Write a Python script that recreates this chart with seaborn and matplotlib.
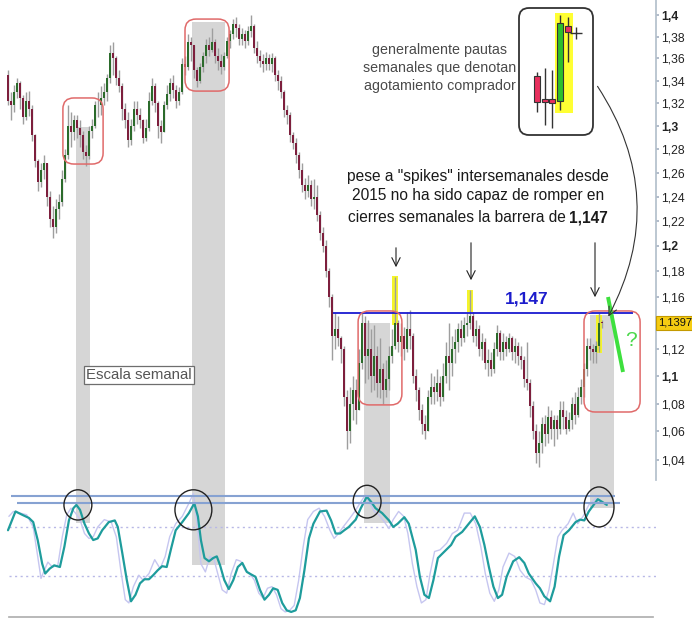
import numpy as np
import pandas as pd
import matplotlib
matplotlib.use("Agg")
import matplotlib.pyplot as plt
import seaborn as sns
from matplotlib.patches import Rectangle, FancyBboxPatch, Ellipse
from matplotlib.transforms import blended_transform_factory

sns.set_theme(style="white")
plt.rcParams['font.family'] = ['Liberation Sans Narrow', 'Liberation Sans', 'DejaVu Sans']

# weekly candles (EUR/USD), open = previous close
first_open = 1.345
closes = [1.322, 1.318, 1.330, 1.338, 1.325, 1.308, 1.322, 1.315, 1.292, 1.270,
          1.252, 1.262, 1.268, 1.240, 1.222, 1.215, 1.230, 1.236, 1.255, 1.275,
          1.300, 1.295, 1.305, 1.298, 1.292, 1.278, 1.274, 1.296, 1.300, 1.318,
          1.318, 1.325, 1.330, 1.342, 1.365, 1.360, 1.342, 1.335, 1.315, 1.305,
          1.288, 1.300, 1.315, 1.310, 1.305, 1.290, 1.298, 1.322, 1.335, 1.320,
          1.300, 1.295, 1.318, 1.328, 1.338, 1.332, 1.322, 1.330, 1.355, 1.352,
          1.375, 1.372, 1.350, 1.340, 1.352, 1.362, 1.372, 1.368, 1.375, 1.362,
          1.358, 1.352, 1.362, 1.376, 1.382, 1.392, 1.388, 1.378, 1.382, 1.376,
          1.385, 1.390, 1.370, 1.362, 1.358, 1.355, 1.360, 1.355, 1.360, 1.345,
          1.340, 1.330, 1.314, 1.310, 1.292, 1.285, 1.275, 1.262, 1.250, 1.245,
          1.250, 1.238, 1.240, 1.225, 1.210, 1.200, 1.180, 1.160, 1.130, 1.135,
          1.128, 1.120, 1.085, 1.060, 1.080, 1.090, 1.075, 1.110, 1.140, 1.115,
          1.120, 1.100, 1.115, 1.095, 1.105, 1.090, 1.098, 1.115, 1.122, 1.140,
          1.125, 1.130, 1.120, 1.135, 1.130, 1.100, 1.090, 1.075, 1.065, 1.060,
          1.085, 1.092, 1.088, 1.095, 1.085, 1.100, 1.115, 1.110, 1.120, 1.125,
          1.135, 1.128, 1.138, 1.140, 1.145, 1.130, 1.135, 1.120, 1.125, 1.110,
          1.112, 1.105, 1.120, 1.132, 1.118, 1.125, 1.120, 1.128, 1.118, 1.122,
          1.115, 1.112, 1.098, 1.095, 1.078, 1.060, 1.045, 1.052, 1.065, 1.058,
          1.070, 1.062, 1.068, 1.062, 1.075, 1.070, 1.062, 1.068, 1.080, 1.072,
          1.085, 1.092, 1.105, 1.122, 1.120, 1.118, 1.122, 1.140, 1.1397]
highs = [1.350, 1.330, 1.336, 1.342, 1.340, 1.327, 1.330, 1.331, 1.318, 1.293,
         1.272, 1.268, 1.275, 1.268, 1.245, 1.232, 1.238, 1.242, 1.262, 1.280,
         1.318, 1.312, 1.310, 1.310, 1.305, 1.296, 1.284, 1.300, 1.306, 1.322,
         1.330, 1.335, 1.338, 1.346, 1.372, 1.375, 1.362, 1.350, 1.338, 1.320,
         1.312, 1.306, 1.322, 1.322, 1.316, 1.306, 1.306, 1.330, 1.342, 1.338,
         1.322, 1.305, 1.322, 1.336, 1.342, 1.345, 1.336, 1.334, 1.360, 1.362,
         1.382, 1.380, 1.372, 1.352, 1.356, 1.366, 1.378, 1.380, 1.388, 1.378,
         1.370, 1.364, 1.366, 1.380, 1.386, 1.396, 1.398, 1.392, 1.388, 1.386,
         1.390, 1.400, 1.392, 1.376, 1.368, 1.364, 1.366, 1.364, 1.365, 1.362,
         1.350, 1.344, 1.332, 1.318, 1.312, 1.295, 1.290, 1.278, 1.268, 1.256,
         1.258, 1.254, 1.255, 1.250, 1.228, 1.215, 1.205, 1.182, 1.162, 1.147,
         1.145, 1.130, 1.122, 1.090, 1.092, 1.100, 1.098, 1.120, 1.147, 1.145,
         1.142, 1.135, 1.138, 1.122, 1.128, 1.110, 1.112, 1.122, 1.135, 1.175,
         1.142, 1.140, 1.137, 1.148, 1.150, 1.132, 1.105, 1.092, 1.080, 1.072,
         1.090, 1.102, 1.100, 1.105, 1.100, 1.110, 1.125, 1.140, 1.130, 1.135,
         1.140, 1.142, 1.144, 1.147, 1.165, 1.148, 1.142, 1.138, 1.132, 1.128,
         1.120, 1.118, 1.125, 1.138, 1.134, 1.132, 1.130, 1.132, 1.130, 1.128,
         1.125, 1.122, 1.115, 1.125, 1.098, 1.082, 1.065, 1.060, 1.070, 1.072,
         1.078, 1.075, 1.072, 1.072, 1.082, 1.082, 1.075, 1.074, 1.085, 1.088,
         1.092, 1.098, 1.110, 1.128, 1.128, 1.124, 1.126, 1.147, 1.142]
lows = [1.318, 1.305, 1.312, 1.325, 1.315, 1.302, 1.305, 1.309, 1.287, 1.265,
        1.245, 1.248, 1.255, 1.232, 1.215, 1.206, 1.210, 1.222, 1.232, 1.252,
        1.272, 1.282, 1.288, 1.290, 1.282, 1.272, 1.266, 1.272, 1.290, 1.298,
        1.308, 1.310, 1.318, 1.322, 1.338, 1.345, 1.336, 1.330, 1.305, 1.298,
        1.282, 1.284, 1.296, 1.302, 1.298, 1.285, 1.287, 1.296, 1.318, 1.312,
        1.290, 1.285, 1.296, 1.315, 1.322, 1.325, 1.316, 1.318, 1.328, 1.345,
        1.350, 1.358, 1.342, 1.334, 1.338, 1.348, 1.356, 1.362, 1.366, 1.356,
        1.350, 1.346, 1.350, 1.360, 1.370, 1.378, 1.380, 1.372, 1.372, 1.370,
        1.372, 1.380, 1.365, 1.356, 1.352, 1.348, 1.350, 1.350, 1.348, 1.340,
        1.332, 1.325, 1.308, 1.302, 1.286, 1.280, 1.268, 1.256, 1.244, 1.238,
        1.240, 1.232, 1.230, 1.220, 1.205, 1.195, 1.175, 1.152, 1.112, 1.120,
        1.122, 1.110, 1.078, 1.048, 1.052, 1.068, 1.065, 1.078, 1.105, 1.095,
        1.098, 1.088, 1.090, 1.085, 1.084, 1.080, 1.085, 1.090, 1.110, 1.120,
        1.118, 1.115, 1.112, 1.118, 1.120, 1.095, 1.082, 1.068, 1.058, 1.055,
        1.062, 1.080, 1.080, 1.082, 1.078, 1.082, 1.095, 1.090, 1.100, 1.110,
        1.118, 1.122, 1.125, 1.130, 1.135, 1.125, 1.122, 1.115, 1.112, 1.105,
        1.100, 1.100, 1.102, 1.115, 1.112, 1.112, 1.115, 1.118, 1.112, 1.110,
        1.108, 1.105, 1.092, 1.090, 1.070, 1.055, 1.038, 1.035, 1.045, 1.050,
        1.052, 1.055, 1.050, 1.055, 1.058, 1.062, 1.058, 1.060, 1.062, 1.065,
        1.070, 1.080, 1.085, 1.100, 1.112, 1.110, 1.110, 1.118, 1.136]

last_price = 1.1397
barrier = 1.147
price_ticks = [1.04, 1.06, 1.08, 1.10, 1.12, 1.16, 1.18, 1.20, 1.22, 1.24,
               1.26, 1.28, 1.30, 1.32, 1.34, 1.36, 1.38, 1.40]

# yellow marks on the spikes: week, low, high
spike_weeks = [129, 154, 197]
spike_lo = [1.138, 1.148, 1.117]
spike_hi = [1.176, 1.165, 1.146]

# oscillator (main and fast line)
osc_w = [0, 2.5, 4.7, 7.0, 8.4, 9.9, 11.4, 12.4, 13.9, 15.4,
         17.3, 18.8, 20.3, 21.8, 22.8, 24.0, 25.5, 27.0, 28.4, 29.9,
         31.4, 33.6, 35.6, 36.6, 38.1, 39.6, 41.0, 42.5, 44.0, 45.5,
         47.0, 48.4, 49.9, 51.4, 52.9, 54.4, 55.9, 58.1, 60.3, 62.1,
         63.3, 64.3, 65.5, 67.0, 68.4, 69.6, 70.7, 72.1, 73.6, 75.1,
         76.6, 78.1, 79.6, 81.0, 82.5, 84.0, 85.5, 87.0, 88.4, 89.9,
         91.4, 92.9, 94.4, 95.9, 97.3, 98.8, 100.3, 101.8, 104.0, 106.2,
         107.7, 109.2, 110.7, 112.1, 113.6, 115.9, 117.6, 119.6, 121.0, 122.5,
         124.7, 127.0, 128.4, 129.9, 132.1, 133.6, 135.9, 137.3, 138.8, 140.3,
         141.8, 143.3, 145.5, 147.7, 149.2, 151.4, 153.6, 155.6, 157.3, 158.8,
         160.3, 161.8, 163.3, 164.7, 166.2, 168.4, 170.4, 172.1, 173.6, 175.9,
         177.3, 178.8, 180.7, 182.2, 183.7, 185.2, 187.0, 189.2, 190.7, 192.1,
         193.6, 196.6, 198.8, 199.6]
osc_v = [76, 99, 95, 91, 86, 64, 35, 23, 29, 33,
         31, 56, 88, 103, 107, 101, 84, 72, 64, 66,
         76, 86, 88, 80, 48, 15, -11, -3, 11, 16,
         16, 21, 27, 32, 31, 54, 76, 86, 97, 109,
         93, 64, 42, 38, 42, 44, 33, 15, 4, 15,
         31, 36, 25, 22, 19, 3, -9, -3, 5, 3,
         -13, -22, -24, -22, -7, 27, 66, 84, 99, 100,
         88, 72, 72, 76, 80, 89, 103, 117, 111, 103,
         97, 88, 80, 84, 92, 84, 52, 19, -3, -7,
         15, 42, 50, 58, 68, 74, 84, 93, 80, 58,
         31, 7, -7, -3, 19, 38, 43, 36, 23, 11,
         5, -5, -11, 7, 44, 70, 76, 86, 89, 88,
         99, 114, 109, 107]
sig_w = [0.3, 1.8, 4.0, 6.2, 8.4, 9.9, 11.0, 12.1, 13.3, 14.8,
         16.6, 18.1, 19.6, 21.0, 22.5, 24.0, 25.5, 27.0, 28.4, 29.9,
         32.1, 34.4, 36.1, 37.6, 39.1, 40.3, 41.8, 43.6, 45.0, 47.0,
         48.9, 50.7, 52.4, 53.9, 55.9, 58.1, 60.3, 61.8, 63.3, 64.3,
         65.8, 67.3, 68.7, 69.9, 71.4, 72.9, 74.4, 76.1, 77.6, 79.1,
         80.6, 82.1, 83.6, 85.0, 86.5, 88.0, 89.5, 91.0, 92.4, 93.9,
         95.4, 96.9, 98.4, 99.9, 101.8, 103.7, 105.5, 107.3, 108.7, 110.2,
         111.7, 113.6, 115.6, 117.3, 119.1, 120.6, 122.1, 123.6, 125.5, 127.0,
         128.4, 130.2, 131.9, 133.3, 134.8, 136.3, 137.8, 139.3, 140.7, 142.2,
         144.0, 146.2, 148.1, 149.9, 152.1, 154.1, 155.9, 157.6, 159.1, 160.6,
         162.1, 163.6, 165.0, 167.0, 168.9, 170.7, 172.4, 174.4, 175.9, 177.3,
         178.8, 180.3, 181.8, 183.3, 184.7, 186.7, 188.4, 189.9, 191.7, 193.6,
         195.9, 198.1]
sig_v = [93, 99, 97, 95, 80, 44, 17, 27, 37, 31,
         33, 68, 95, 103, 97, 89, 72, 66, 68, 80,
         89, 86, 68, 27, -9, -13, 7, 21, 15, 23,
         40, 29, 44, 68, 84, 93, 109, 121, 76, 35,
         25, 44, 40, 23, 3, -1, 23, 40, 38, 27,
         23, 15, -1, -7, 5, 7, -3, -20, -24, -22,
         -16, 15, 56, 89, 99, 103, 93, 76, 66, 72,
         80, 89, 99, 109, 119, 109, 99, 95, 86, 78,
         89, 99, 93, 72, 35, 7, -13, -9, 23, 50,
         52, 60, 72, 76, 97, 97, 84, 56, 23, -1,
         -11, 3, 31, 48, 44, 27, 19, 15, 3, -13,
         -15, 3, 35, 68, 76, 84, 97, 84, 93, 107,
         115, 109]
osc_levels = [80, 20]
osc_top_lines = [118, 109.4]
osc_xticks = [32.7, 69.3, 106.7, 143.3, 180.3]

# highlighted zones: week from, week to, price top, oscillator bottom
zones = [(22.7, 27.3, 1.299, 85), (61.3, 72.3, 1.3935, 33.5),
         (118.7, 127.3, 1.1397, 85), (194.0, 202.0, 1.1458, 103)]
# red boxes: week from, week to, price low, price high
red_boxes = [(18.3, 31.7, 1.2674, 1.3246), (59.0, 73.7, 1.3307, 1.3963),
             (116.7, 131.3, 1.0790, 1.1489), (192.0, 210.7, 1.0739, 1.1489)]
# circles on oscillator peaks: week, value, width, height
osc_circles = [(23.3, 107, 9.3, 37), (61.8, 101, 12.3, 49),
               (119.7, 111, 9.3, 40), (197.0, 104.5, 10.0, 49)]

# inset: last weeks enlarged
ins_open = [1.1266, 1.1198, 1.1198, 1.1192, 1.1413]
ins_close = [1.1189, 1.1189, 1.1186, 1.1422, 1.1395]
ins_high = [1.1277, 1.1289, 1.1283, 1.1446, 1.1440]
ins_low = [1.1160, 1.1121, 1.1112, 1.1165, 1.1307]
ins_last = 1.1392

W, H = 692, 619
fig = plt.figure(figsize=(W / 100, H / 100), dpi=100, facecolor='white')
under = fig.add_axes([0, 0, 1, 1], zorder=-1)
ax = fig.add_axes([0, 139 / H, 656 / W, 480 / H], zorder=0)
ax2 = fig.add_axes([0, 2 / H, 656 / W, 137 / H], zorder=0)
ov = fig.add_axes([0, 0, 1, 1], zorder=3)
for a in (under, ov):
    a.set_xlim(0, W)
    a.set_ylim(H, 0)
    a.axis('off')
for a in (ax, ax2):
    a.set_facecolor('none')

# ---- candles
c = np.array(closes)
o = np.r_[first_open, c[:-1]]
h = np.maximum(np.array(highs), np.maximum(o, c))
l = np.minimum(np.array(lows), np.minimum(o, c))
weeks = np.arange(len(c))
up = c >= o

ax.bar(spike_weeks, np.array(spike_hi) - np.array(spike_lo), bottom=spike_lo,
       width=1.8, color='#f4f42a', lw=0, zorder=1)
ax.vlines(weeks, l, h, color='#9e9e9e', lw=1.0, zorder=2)
ax.bar(weeks, np.maximum(np.abs(c - o), 0.0008), bottom=np.minimum(o, c), width=0.7,
       color=np.where(up, '#2b6b2b', '#7d1f3d'), lw=0, zorder=3)
ax.hlines(barrier, 108.3, 208.3, color='#1a1ad0', lw=1.3, zorder=4)

ax.set_yscale('log')
ax.set_xlim(-8 / 3, 648 / 3)
ax.set_ylim(1.0262, 1.4142)
ax.set_yticks(price_ticks)
ax.set_yticklabels([f"{t:g}".replace('.', ',') for t in price_ticks])
ax.yaxis.set_minor_locator(matplotlib.ticker.NullLocator())
ax.yaxis.tick_right()
ax.tick_params(axis='y', direction='out', length=2.5, pad=1, labelsize=8.8,
               color='#a8b4c4', labelcolor='#222222')
ax.set_xticks([])
for t, lab in zip(price_ticks, ax.get_yticklabels()):
    if abs(t * 10 - round(t * 10)) < 1e-6:
        lab.set_fontweight('bold')
for s in ['top', 'left', 'bottom']:
    ax.spines[s].set_visible(False)
ax.spines['right'].set_color('#b4c0cc')
ax.text(1 + 2 / 656, last_price, f"{last_price}".replace('.', ','),
        transform=blended_transform_factory(ax.transAxes, ax.transData),
        ha='left', va='center', fontsize=8, color='#111111',
        bbox=dict(boxstyle='square,pad=0.15', fc='#f5cc12', ec='#c49a00', lw=0.8))

# ---- oscillator
osc_df = pd.DataFrame({'week': osc_w, 'value': osc_v})
sig_df = pd.DataFrame({'week': sig_w, 'value': sig_v})
sns.lineplot(data=sig_df, x='week', y='value', ax=ax2, color='#c6c6f0', lw=1.0,
             estimator=None, zorder=2)
sns.lineplot(data=osc_df, x='week', y='value', ax=ax2, color='#1e9c9c', lw=1.6,
             estimator=None, zorder=3)
ax2.hlines(osc_levels, 0.3, 216, color='#b8b8e6', lw=1.0, linestyles=(0, (1.5, 2.5)), zorder=1)
ax2.hlines(osc_top_lines, [1.0, 3.0], [202.3, 204.0], color='#86a2d2', lw=1.5, zorder=4)
for cw, cv, ew, eh in osc_circles:
    ax2.add_patch(Ellipse((cw, cv), ew, eh, fc='none', ec='#222222', lw=1.0, zorder=5, clip_on=False))
ax2.set_xlim(-8 / 3, 648 / 3)
ax2.set_ylim(-30.2, 137.5)
ax2.set_xlabel('')
ax2.set_ylabel('')
ax2.set_yticks([])
ax2.set_xticks(osc_xticks)
ax2.tick_params(axis='x', direction='in', length=4, color='#b0b0b0', labelbottom=False)
for s in ['top', 'left', 'right']:
    ax2.spines[s].set_visible(False)
ax2.spines['bottom'].set_color('#b0b0b0')
ax2.spines['bottom'].set_bounds(0.3, 215)


def to_px(a, x, y):
    dx, dy = a.transData.transform((x, y))
    return dx, H - dy


# grey zones behind both panels
for w0, w1, ptop, vbot in zones:
    x0, yt = to_px(ax, w0, ptop)
    x1, _ = to_px(ax, w1, ptop)
    _, yb = to_px(ax2, w0, vbot)
    under.add_patch(Rectangle((x0, yt), x1 - x0, yb - yt, fc='#d6d6d6', ec='none'))

for w0, w1, p0, p1 in red_boxes:
    x0, y0 = to_px(ax, w0, p1)
    x1, y1 = to_px(ax, w1, p0)
    ov.add_patch(FancyBboxPatch((x0, y0), x1 - x0, y1 - y0,
                                boxstyle='round,pad=0,rounding_size=11',
                                fc='none', ec='#e06a6a', lw=1.1))

# ---- annotations
ov.text(527, 299, '1,147', ha='center', va='center', fontsize=12.5,
        fontweight='bold', color='#1c1ccc')
ov.text(478, 186, 'pese a "spikes" intersemanales desde\n2015 no ha sido capaz de romper en',
        ha='center', va='center', fontsize=11.2, color='#1a1a1a', linespacing=1.35)
ov.text(566, 218, 'cierres semanales la barrera de', ha='right', va='center',
        fontsize=11.2, color='#1a1a1a')
ov.text(569, 218, '1,147', ha='left', va='center', fontsize=11.2,
        fontweight='bold', color='#1a1a1a')
ov.text(440, 68, 'generalmente pautas\nsemanales que denotan\nagotamiento comprador',
        ha='center', va='center', fontsize=10.3, color='#4a4a4a', linespacing=1.35)
ov.text(139, 375, 'Escala semanal', ha='center', va='center', fontsize=10.8,
        color='#555555',
        bbox=dict(boxstyle='square,pad=0.12', fc='white', ec='#6e6e6e', lw=0.9))

for x, y0, y1 in [(396, 245, 270), (471, 240, 283), (595, 240, 300)]:
    ov.annotate('', xy=(x, y1), xytext=(x, y0),
                arrowprops=dict(arrowstyle='->,head_length=0.5,head_width=0.25',
                                color='#222222', lw=0.8))
ov.annotate('', xy=(607, 319), xytext=(596, 84),
            arrowprops=dict(arrowstyle='->,head_length=0.5,head_width=0.25',
                            connectionstyle='arc3,rad=-0.3', color='#333333', lw=0.8))
ov.plot([608, 623], [297, 372], color='#3ee03e', lw=2.8, solid_capstyle='butt')
ov.text(631, 340, '?', ha='center', va='center', fontsize=15, color='#4cd84c')

# ---- inset with the last weekly candles
ov.add_patch(FancyBboxPatch((519, 8), 74, 127, boxstyle='round,pad=0,rounding_size=10',
                            fc='white', ec='#333333', lw=1.3))
axi = fig.add_axes([519 / W, (H - 135) / H, 74 / W, 127 / H], zorder=4)
axi.axis('off')
io, ic = np.array(ins_open), np.array(ins_close)
ik = np.arange(len(io))
axi.bar(3.51, 1.1451 - 1.1157, bottom=1.1157, width=2.34, color='#ffff33', lw=0, zorder=1)
axi.vlines(ik, ins_low, ins_high, color='#333333', lw=1.0, zorder=2)
axi.bar(ik, np.maximum(np.abs(ic - io), 0.0003), bottom=np.minimum(io, ic), width=0.8,
        color=np.where(ic >= io, '#2cc02c', '#e8305e'), edgecolor='#333333', lw=0.8, zorder=3)
axi.plot([len(io)], [ins_last], marker='+', ms=9, mew=1.0, color='#333333', zorder=3)
axi.set_xlim(-2.34, 7.27)
axi.set_ylim(1.10916, 1.14663)

fig.savefig('out.png', dpi=100, facecolor='white')
